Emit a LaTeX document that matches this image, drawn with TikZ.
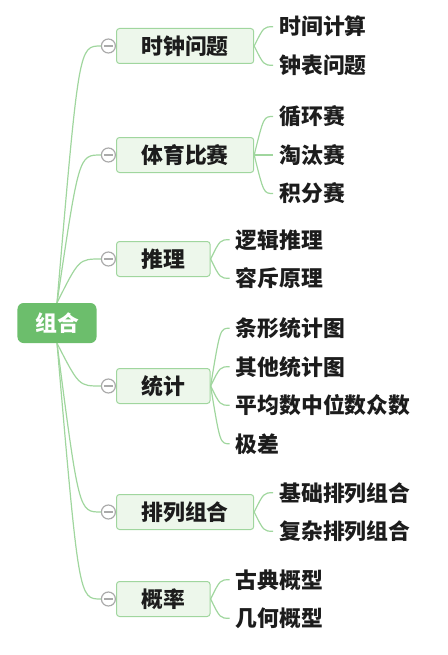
\documentclass[tikz,border=0pt]{standalone}
\usepackage{fontspec}
\setmainfont{Noto Sans CJK SC}
\usetikzlibrary{positioning,calc}

\definecolor{rootgreen}{RGB}{108,190,108}
\definecolor{boxgreen}{RGB}{237,247,235}
\definecolor{edgegreen}{RGB}{160,214,158}
\definecolor{foldgray}{RGB}{170,170,170}
\definecolor{textdark}{RGB}{28,28,28}

\begin{document}
\begin{tikzpicture}[x=1bp,y=1bp,node distance=38.5bp,
        cjk text/.style={font=\fontsize{21.8bp}{26bp}\selectfont\bfseries,text height=17.5bp,text depth=1bp},
        root node/.style={cjk text,rounded corners=6bp,fill=rootgreen,text=white,inner xsep=17.7bp,minimum height=40bp},
        topic node/.style={cjk text,rounded corners=3bp,draw=edgegreen,line width=1bp,fill=boxgreen,text=textdark,inner xsep=25bp,minimum height=35bp,anchor=west},
        leaf node/.style={cjk text,text=textdark,inner xsep=6bp,inner ysep=2bp},
        fold node/.style={circle,draw=foldgray,line width=1.2bp,fill=white,minimum size=14bp,inner sep=0pt,
          path picture={\draw[foldgray,line width=1.2bp] ([xshift=2.5bp]path picture bounding box.west) -- ([xshift=-2.5bp]path picture bounding box.east);}},
        branch/.style={draw=edgegreen,line width=1.2bp,
          to path={.. controls ($(\tikztostart |- \tikztotarget)!.5!(\tikztotarget)$) .. (\tikztotarget)}}]

        \useasboundingbox (0,0) rectangle (448,-655);

        \node[root node] (root) at (57,-323) {组合};

        \node[topic node] (clock) at (116,-46) {时钟问题};
        \node[topic node] (sport) at (116,-155) {体育比赛};
        \node[topic node] (logic) at (116,-259) {推理};
        \node[topic node] (stats) at (116,-386) {统计};
        \node[topic node] (perm) at (116,-512) {排列组合};
        \node[topic node] (prob) at (116,-599) {概率};

        \node[fold node] (f1) [left=0pt of clock] {};
        \node[fold node] (f2) [left=0pt of sport] {};
        \node[fold node] (f3) [left=0pt of logic] {};
        \node[fold node] (f4) [left=0pt of stats] {};
        \node[fold node] (f5) [left=0pt of perm] {};
        \node[fold node] (f6) [left=0pt of prob] {};

        \node[leaf node] (clock1) [right=19bp of clock.east,yshift=19.25bp] {时间计算};
        \node[leaf node] (clock2) [below=of clock1.west,anchor=west] {钟表问题};
        \node[leaf node] (sport1) [right=19bp of sport.east,yshift=38.5bp] {循环赛};
        \node[leaf node] (sport2) [below=of sport1.west,anchor=west] {淘汰赛};
        \node[leaf node] (sport3) [below=of sport2.west,anchor=west] {积分赛};
        \node[leaf node] (logic1) [right=19bp of logic.east,yshift=19.25bp] {逻辑推理};
        \node[leaf node] (logic2) [below=of logic1.west,anchor=west] {容斥原理};
        \node[leaf node] (stats1) [right=19bp of stats.east,yshift=57.75bp] {条形统计图};
        \node[leaf node] (stats2) [below=of stats1.west,anchor=west] {其他统计图};
        \node[leaf node] (stats3) [below=of stats2.west,anchor=west] {平均数中位数众数};
        \node[leaf node] (stats4) [below=of stats3.west,anchor=west] {极差};
        \node[leaf node] (perm1) [right=19bp of perm.east,yshift=19.25bp] {基础排列组合};
        \node[leaf node] (perm2) [below=of perm1.west,anchor=west] {复杂排列组合};
        \node[leaf node] (prob1) [right=19bp of prob.east,yshift=19.25bp] {古典概型};
        \node[leaf node] (prob2) [below=of prob1.west,anchor=west] {几何概型};

        \path[branch]
          (root.north) edge (f1.west)
          (root.north) edge (f2.west)
          (root.north) edge (f3.west)
          (root.south) edge (f4.west)
          (root.south) edge (f5.west)
          (root.south) edge (f6.west)
          (clock.east) edge (clock1.west)
          (clock.east) edge (clock2.west)
          (sport.east) edge (sport1.west)
          (sport.east) edge (sport2.west)
          (sport.east) edge (sport3.west)
          (logic.east) edge (logic1.west)
          (logic.east) edge (logic2.west)
          (stats.east) edge (stats1.west)
          (stats.east) edge (stats2.west)
          (stats.east) edge (stats3.west)
          (stats.east) edge (stats4.west)
          (perm.east) edge (perm1.west)
          (perm.east) edge (perm2.west)
          (prob.east) edge (prob1.west)
          (prob.east) edge (prob2.west)
          ;
\end{tikzpicture}
\end{document}
